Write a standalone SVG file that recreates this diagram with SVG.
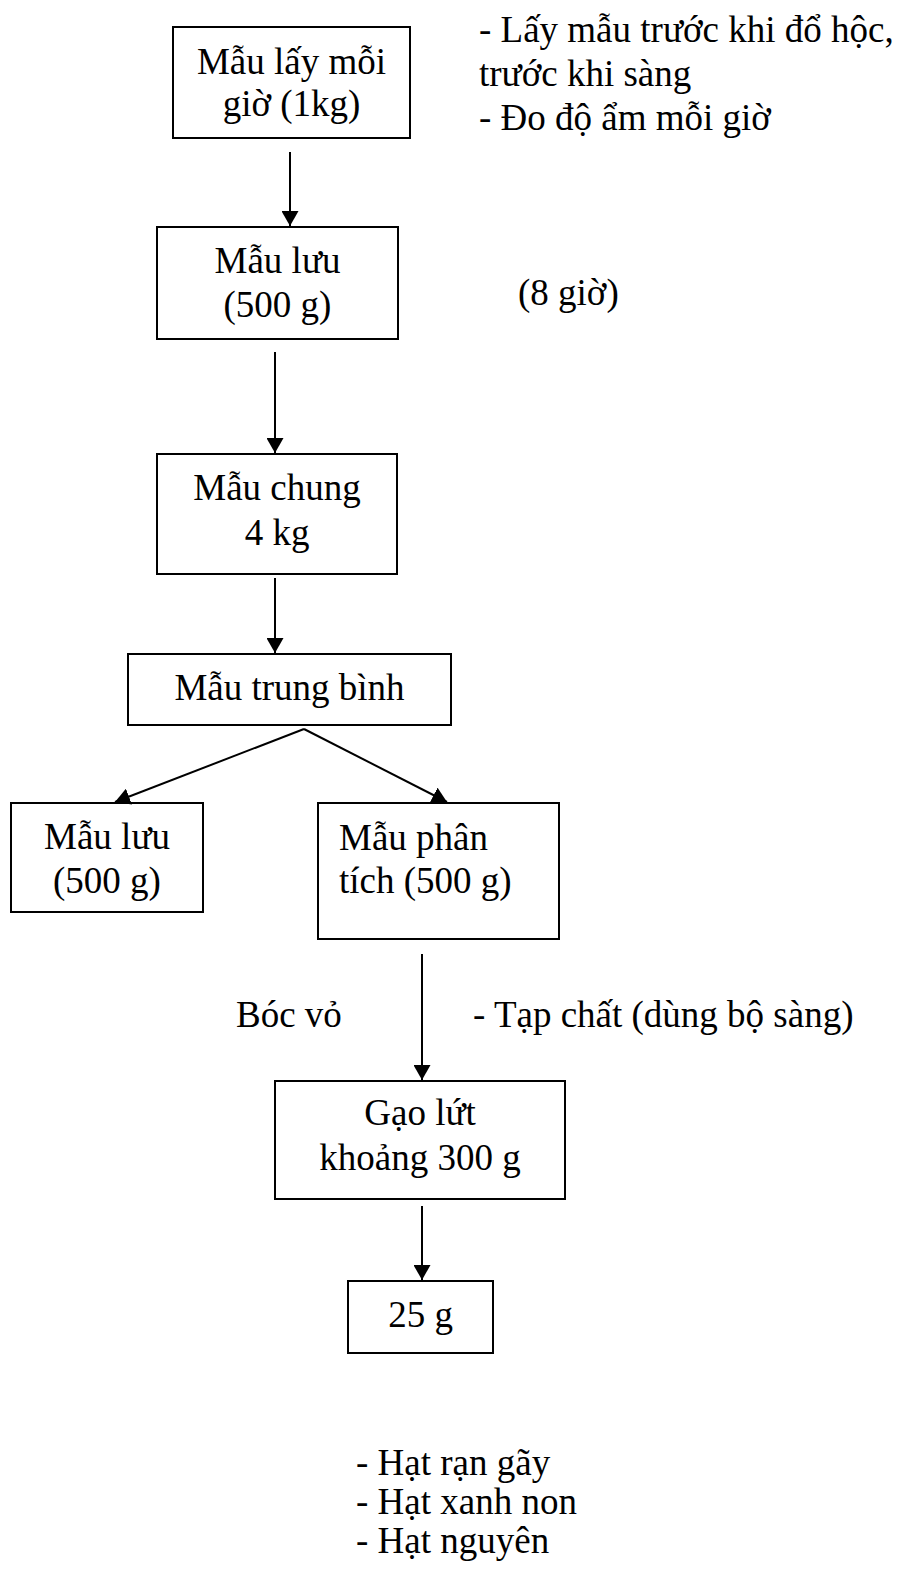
<svg xmlns="http://www.w3.org/2000/svg" width="899" height="1571" viewBox="0 0 899 1571">
  <style>
    .box { fill: #ffffff; stroke: #000000; stroke-width: 2; }
    .t { font-family: "Liberation Serif", "Times New Roman", serif; font-size: 37px; fill: #000000; }
    .c { text-anchor: middle; }
    .edge { stroke: #000000; stroke-width: 2; fill: none; marker-end: url(#arrow); }
  </style>
  <defs>
    <marker id="arrow" markerUnits="userSpaceOnUse" viewBox="0 0 15 17" refX="15" refY="8.5" markerWidth="15" markerHeight="17" orient="auto">
      <path d="M0,0 L15,8.5 L0,17 Z" fill="#000000"/>
    </marker>
    <clipPath id="noteClip">
      <rect x="460" y="0" width="439" height="138"/>
    </clipPath>
  </defs>
  <rect width="899" height="1571" fill="#ffffff"/>

  <!-- free-standing notes -->
  <g id="note-sampling" clip-path="url(#noteClip)">
    <text class="t" x="479" y="42">- Lấy mẫu trước khi đổ hộc,</text>
    <text class="t" x="479" y="86">trước khi sàng</text>
    <text class="t" x="479" y="130">- Đo độ ẩm mỗi giờ</text>
  </g>
  <g id="note-hours">
    <text class="t" x="518" y="305">(8 giờ)</text>
  </g>
  <g id="note-husk">
    <text class="t" x="236" y="1027">Bóc vỏ</text>
  </g>
  <g id="note-impurity">
    <text class="t" x="473" y="1027">- Tạp chất (dùng bộ sàng)</text>
  </g>
  <g id="note-grains">
    <text class="t" x="356" y="1475">- Hạt rạn gãy</text>
    <text class="t" x="356" y="1514">- Hạt xanh non</text>
    <text class="t" x="356" y="1553">- Hạt nguyên</text>
  </g>

  <!-- process boxes -->
  <g id="hourly-sample">
    <rect class="box" x="173" y="27" width="237" height="111"/>
    <text class="t c" x="291.5" y="74">Mẫu lấy mỗi</text>
    <text class="t c" x="291.5" y="116">giờ (1kg)</text>
  </g>
  <g id="stored-sample">
    <rect class="box" x="157" y="227" width="241" height="112"/>
    <text class="t c" x="277.5" y="273">Mẫu lưu</text>
    <text class="t c" x="277.5" y="317">(500 g)</text>
  </g>
  <g id="bulk-sample">
    <rect class="box" x="157" y="454" width="240" height="120"/>
    <text class="t c" x="277" y="500">Mẫu chung</text>
    <text class="t c" x="277" y="545">4 kg</text>
  </g>
  <g id="average-sample">
    <rect class="box" x="128" y="654" width="323" height="71"/>
    <text class="t c" x="289.5" y="700">Mẫu trung bình</text>
  </g>
  <g id="reserve-sample">
    <rect class="box" x="11" y="803" width="192" height="109"/>
    <text class="t c" x="107" y="849">Mẫu lưu</text>
    <text class="t c" x="107" y="893">(500 g)</text>
  </g>
  <g id="analysis-sample">
    <rect class="box" x="318" y="803" width="241" height="136"/>
    <text class="t" x="339" y="850">Mẫu phân</text>
    <text class="t" x="339" y="893">tích (500 g)</text>
  </g>
  <g id="brown-rice">
    <rect class="box" x="275" y="1081" width="290" height="118"/>
    <text class="t c" x="420" y="1125">Gạo lứt</text>
    <text class="t c" x="420" y="1170">khoảng 300 g</text>
  </g>
  <g id="portion">
    <rect class="box" x="348" y="1281" width="145" height="72"/>
    <text class="t c" x="420.5" y="1327">25 g</text>
  </g>

  <!-- connectors -->
  <g id="connectors">
    <line class="edge" x1="290" y1="152" x2="290" y2="226"/>
    <line class="edge" x1="275" y1="352" x2="275" y2="453"/>
    <line class="edge" x1="275" y1="578" x2="275" y2="653"/>
    <line class="edge" x1="304" y1="729" x2="115" y2="802"/>
    <line class="edge" x1="304" y1="729" x2="447" y2="802"/>
    <line class="edge" x1="422" y1="954" x2="422" y2="1080"/>
    <line class="edge" x1="422" y1="1206" x2="422" y2="1280"/>
  </g>
</svg>
